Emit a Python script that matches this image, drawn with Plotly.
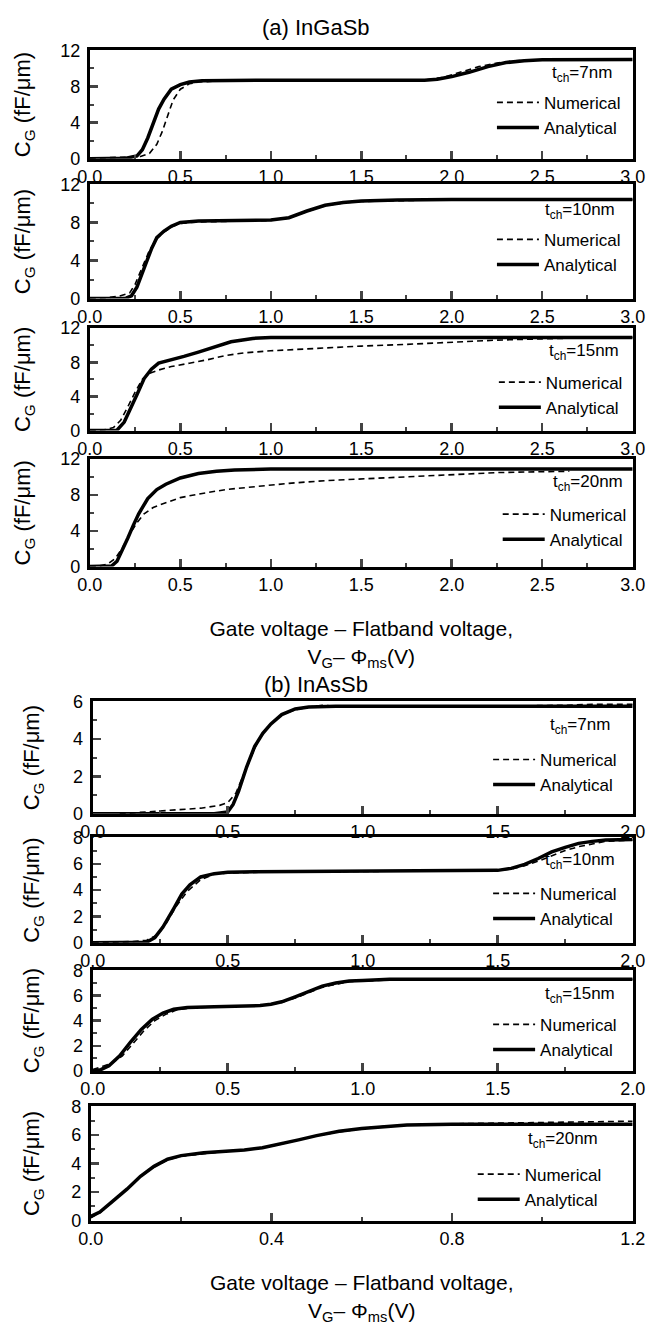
import plotly.graph_objects as go

W, H = 662, 1336

# ---------------- data ----------------
# (a) InGaSb, t_ch = 7 nm
a7_ana_x = [0, 0.1, 0.2, 0.26, 0.29, 0.32, 0.35, 0.38, 0.41, 0.45, 0.5, 0.55, 0.62, 0.8, 1.0, 1.5, 1.85, 1.92, 2.0, 2.1, 2.2, 2.3, 2.4, 2.5, 2.75, 3.0]
a7_ana_y = [0, 0, 0.05, 0.3, 1.0, 2.3, 3.9, 5.5, 6.6, 7.7, 8.2, 8.5, 8.65, 8.7, 8.7, 8.7, 8.7, 8.8, 9.1, 9.6, 10.2, 10.65, 10.85, 10.95, 11.0, 11.0]
a7_num_x = [0, 0.1, 0.2, 0.28, 0.33, 0.37, 0.4, 0.43, 0.46, 0.5, 0.55, 0.6, 0.7, 1.0, 1.5, 1.85, 1.95, 2.05, 2.15, 2.25, 2.35, 2.5, 2.75, 3.0]
a7_num_y = [0.05, 0.1, 0.15, 0.25, 0.6, 1.6, 3.0, 4.8, 6.5, 7.7, 8.3, 8.5, 8.6, 8.65, 8.65, 8.7, 9.0, 9.6, 10.2, 10.6, 10.85, 10.95, 11.0, 11.0]

# (a) InGaSb, t_ch = 10 nm
a10_ana_x = [0, 0.1, 0.2, 0.23, 0.26, 0.3, 0.34, 0.37, 0.41, 0.45, 0.5, 0.6, 0.8, 1.0, 1.1, 1.2, 1.3, 1.4, 1.5, 1.7, 2.0, 2.5, 3.0]
a10_ana_y = [0, 0, 0.05, 0.3, 1.2, 3.2, 5.2, 6.4, 7.1, 7.6, 8.0, 8.15, 8.2, 8.25, 8.5, 9.2, 9.8, 10.1, 10.25, 10.35, 10.4, 10.4, 10.4]
a10_num_x = [0, 0.1, 0.17, 0.22, 0.25, 0.29, 0.33, 0.37, 0.41, 0.45, 0.5, 0.6, 0.8, 1.0, 1.1, 1.2, 1.3, 1.4, 1.5, 1.7, 2.0, 2.5, 3.0]
a10_num_y = [0.05, 0.1, 0.3, 0.6, 1.5, 3.3, 5.1, 6.3, 7.0, 7.5, 7.9, 8.05, 8.15, 8.2, 8.45, 9.15, 9.75, 10.05, 10.2, 10.3, 10.4, 10.4, 10.4]

# (a) InGaSb, t_ch = 15 nm
a15_ana_x = [0, 0.1, 0.15, 0.19, 0.22, 0.26, 0.3, 0.34, 0.38, 0.45, 0.52, 0.6, 0.7, 0.78, 0.9, 1.0, 1.5, 2.0, 2.5, 3.0]
a15_ana_y = [0, 0, 0.05, 1.0, 2.3, 4.2, 6.1, 7.2, 7.9, 8.35, 8.7, 9.2, 9.9, 10.4, 10.8, 10.9, 10.9, 10.9, 10.9, 10.9]
a15_num_x = [0, 0.08, 0.13, 0.17, 0.21, 0.25, 0.29, 0.33, 0.38, 0.45, 0.55, 0.65, 0.75, 0.85, 1.0, 1.25, 1.5, 1.75, 2.0, 2.25, 2.5, 2.7, 3.0]
a15_num_y = [0, 0.1, 0.35, 1.2, 2.8, 4.5, 6.0, 6.7, 7.1, 7.5, 7.9, 8.3, 8.8, 9.1, 9.35, 9.65, 9.9, 10.1, 10.35, 10.6, 10.75, 10.85, 10.9]

# (a) InGaSb, t_ch = 20 nm
a20_ana_x = [0, 0.08, 0.12, 0.15, 0.18, 0.21, 0.24, 0.27, 0.32, 0.37, 0.42, 0.5, 0.6, 0.7, 0.8, 1.0, 1.5, 2.0, 2.5, 3.0]
a20_ana_y = [0, 0, 0.05, 0.6, 1.8, 3.2, 4.6, 5.9, 7.6, 8.6, 9.2, 9.9, 10.4, 10.65, 10.8, 10.9, 10.9, 10.9, 10.9, 10.9]
a20_num_x = [0, 0.05, 0.1, 0.14, 0.18, 0.22, 0.26, 0.3, 0.35, 0.4, 0.5, 0.6, 0.75, 0.9, 1.1, 1.3, 1.5, 1.75, 2.0, 2.25, 2.5, 2.65]
a20_num_y = [0, 0.05, 0.3, 0.9, 2.1, 3.6, 4.9, 5.9, 6.6, 7.0, 7.7, 8.1, 8.6, 8.9, 9.3, 9.6, 9.8, 10.05, 10.3, 10.5, 10.6, 10.65]

# (b) InAsSb, t_ch = 7 nm
b7_ana_x = [0, 0.1, 0.3, 0.45, 0.5, 0.52, 0.54, 0.57, 0.6, 0.63, 0.66, 0.7, 0.75, 0.8, 0.9, 1.0, 1.5, 2.0]
b7_ana_y = [0, 0, 0, 0, 0.1, 0.5, 1.2, 2.5, 3.6, 4.3, 4.8, 5.3, 5.6, 5.7, 5.75, 5.75, 5.75, 5.75]
b7_num_x = [0.1, 0.2, 0.3, 0.4, 0.47, 0.5, 0.53, 0.56, 0.6, 0.63, 0.66, 0.7, 0.75, 0.8, 0.85, 0.9, 1.0, 1.5, 1.75, 1.85, 2.0]
b7_num_y = [0.0, 0.1, 0.2, 0.3, 0.45, 0.6, 1.1, 2.1, 3.5, 4.3, 4.8, 5.3, 5.55, 5.7, 5.8, 5.75, 5.75, 5.75, 5.8, 5.85, 5.85]

# (b) InAsSb, t_ch = 10 nm
b10_ana_x = [0, 0.1, 0.2, 0.23, 0.26, 0.3, 0.33, 0.36, 0.4, 0.45, 0.5, 0.6, 1.0, 1.4, 1.5, 1.55, 1.6, 1.65, 1.7, 1.75, 1.8, 1.85, 1.9, 2.0]
b10_ana_y = [0, 0, 0.05, 0.4, 1.2, 2.6, 3.7, 4.4, 5.0, 5.25, 5.35, 5.4, 5.45, 5.45, 5.5, 5.65, 5.95, 6.4, 6.9, 7.25, 7.55, 7.7, 7.8, 7.85]
b10_num_x = [0, 0.1, 0.15, 0.2, 0.24, 0.27, 0.31, 0.35, 0.4, 0.45, 0.5, 0.6, 1.0, 1.4, 1.5, 1.55, 1.6, 1.65, 1.7, 1.75, 1.8, 1.85, 1.9, 2.0]
b10_num_y = [0.0, 0.05, 0.1, 0.2, 0.6, 1.4, 2.8, 3.9, 4.8, 5.2, 5.3, 5.35, 5.4, 5.45, 5.5, 5.6, 5.85, 6.2, 6.6, 7.0, 7.3, 7.5, 7.7, 7.8]

# (b) InAsSb, t_ch = 15 nm
b15_ana_x = [0, 0.03, 0.06, 0.1, 0.14, 0.18, 0.22, 0.26, 0.3, 0.35, 0.45, 0.55, 0.62, 0.66, 0.7, 0.75, 0.8, 0.85, 0.9, 0.95, 1.0, 1.1, 1.5, 2.0]
b15_ana_y = [0, 0.1, 0.4, 1.2, 2.3, 3.3, 4.1, 4.6, 4.9, 5.05, 5.1, 5.15, 5.2, 5.3, 5.5, 5.9, 6.35, 6.75, 7.0, 7.15, 7.2, 7.3, 7.3, 7.3]
b15_num_x = [0, 0.03, 0.07, 0.11, 0.15, 0.19, 0.23, 0.27, 0.31, 0.36, 0.45, 0.55, 0.62, 0.66, 0.7, 0.75, 0.8, 0.85, 0.9, 0.95, 1.0, 1.1, 1.5, 2.0]
b15_num_y = [0.1, 0.3, 0.6, 1.2, 2.2, 3.2, 4.0, 4.5, 4.85, 5.0, 5.1, 5.15, 5.2, 5.3, 5.45, 5.8, 6.25, 6.65, 6.9, 7.1, 7.15, 7.25, 7.3, 7.3]

# (b) InAsSb, t_ch = 20 nm
b20_ana_x = [0, 0.02, 0.05, 0.08, 0.11, 0.14, 0.17, 0.2, 0.25, 0.3, 0.34, 0.38, 0.42, 0.46, 0.5, 0.55, 0.6, 0.65, 0.7, 0.8, 1.0, 1.2]
b20_ana_y = [0.3, 0.6, 1.4, 2.2, 3.1, 3.8, 4.3, 4.55, 4.75, 4.85, 4.95, 5.1, 5.35, 5.65, 5.95, 6.25, 6.45, 6.6, 6.7, 6.75, 6.75, 6.75]
b20_num_x = [0, 0.02, 0.05, 0.08, 0.11, 0.14, 0.17, 0.2, 0.25, 0.3, 0.34, 0.38, 0.42, 0.46, 0.5, 0.55, 0.6, 0.65, 0.7, 0.8, 0.9, 1.0, 1.1, 1.2]
b20_num_y = [0.2, 0.55, 1.35, 2.2, 3.1, 3.75, 4.25, 4.5, 4.7, 4.85, 4.95, 5.1, 5.35, 5.65, 5.95, 6.2, 6.45, 6.6, 6.7, 6.78, 6.83, 6.88, 6.92, 6.96]

thickness_labels = ["t<sub>ch</sub>=7nm", "t<sub>ch</sub>=10nm", "t<sub>ch</sub>=15nm", "t<sub>ch</sub>=20nm"] * 2
series_names = ["Numerical", "Analytical"]
group_titles = ["(a) InGaSb", "(b) InAsSb"]
x_title = "Gate voltage \u2013 Flatband voltage,<br>V<sub>G</sub>\u2013 \u03a6<sub>ms</sub>(V)"
y_title = "C<sub>G</sub> (fF/\u03bcm)"

data = [
    (a7_num_x, a7_num_y, a7_ana_x, a7_ana_y),
    (a10_num_x, a10_num_y, a10_ana_x, a10_ana_y),
    (a15_num_x, a15_num_y, a15_ana_x, a15_ana_y),
    (a20_num_x, a20_num_y, a20_ana_x, a20_ana_y),
    (b7_num_x, b7_num_y, b7_ana_x, b7_ana_y),
    (b10_num_x, b10_num_y, b10_ana_x, b10_ana_y),
    (b15_num_x, b15_num_y, b15_ana_x, b15_ana_y),
    (b20_num_x, b20_num_y, b20_ana_x, b20_ana_y),
]

# ---------------- layout geometry (pixels) ----------------
boxes = [
    (80, 645, 41, 151), (80, 645, 177, 293), (80, 645, 323, 427), (80, 645, 456, 565),
    (83, 645, 702, 816), (83, 645, 840, 947), (83, 645, 975, 1077), (81, 645, 1113, 1229),
]
axis_spec = [
    ([0, 3], 0.5, 0.25, [0, 12], 4, 2),
    ([0, 3], 0.5, 0.25, [0, 12], 4, 2),
    ([0, 3], 0.5, 0.25, [0, 12], 4, 2),
    ([0, 3], 0.5, 0.25, [0, 12], 4, 2),
    ([0, 2], 0.5, 0.25, [0, 6], 2, 1),
    ([0, 2], 0.5, 0.25, [0, 8], 2, 1),
    ([0, 2], 0.5, 0.25, [0, 8], 2, 1),
    ([0, 1.2], 0.4, 0.2, [0, 8], 2, 1),
]
y_standoff = [24, 24, 24, 24, 28, 28, 28, 26]
legend_pos = [
    (634, 592, 24, 47), (634, 590, 27, 50), (636, 594, 24, 49), (640, 598, 24, 50),
    (630, 590, 25, 53), (630, 590, 24, 51), (630, 590, 25, 49), (614, 572, 34, 63),
]

FONT = "Liberation Sans, Arial, sans-serif"
fig = go.Figure()
layout = dict(
    width=W, height=H, margin=dict(l=0, r=0, t=0, b=0),
    paper_bgcolor="white", plot_bgcolor="white",
    font=dict(family=FONT, size=17, color="black"),
    annotations=[], showlegend=True, hovermode=False,
)

for i, (nx, ny, ax_, ay) in enumerate(data):
    k = i + 1
    xa = "x" if k == 1 else f"x{k}"
    ya = "y" if k == 1 else f"y{k}"
    lg = "legend" if k == 1 else f"legend{k}"
    fig.add_trace(go.Scatter(x=nx, y=ny, mode="lines", name=series_names[0],
                             line=dict(color="black", width=1.6, dash="6px,4px"),
                             xaxis=xa, yaxis=ya, legend=lg))
    fig.add_trace(go.Scatter(x=ax_, y=ay, mode="lines", name=series_names[1],
                             line=dict(color="black", width=3.5),
                             xaxis=xa, yaxis=ya, legend=lg))
    l, r, t, b = boxes[i]
    xr, xd, xm, yr, yd, ym = axis_spec[i]
    xkey = "xaxis" if k == 1 else f"xaxis{k}"
    ykey = "yaxis" if k == 1 else f"yaxis{k}"
    last = k in (4, 8)
    layout[xkey] = dict(
        domain=[l / W, r / W], anchor=ya, range=xr, dtick=xd, tick0=0,
        tickformat=".1f", ticks="inside", ticklen=8, tickwidth=2.5,
        showline=True, linewidth=3, linecolor="black", mirror=True,
        showgrid=False, zeroline=False, tickfont=dict(size=18),
        minor=dict(ticks="inside", ticklen=4, tickwidth=2, dtick=xm, tick0=0, showgrid=False),
        title=dict(text=x_title, font=dict(size=21), standoff=28) if last else None,
    )
    layout[ykey] = dict(
        domain=[1 - b / H, 1 - t / H], anchor=xa, range=yr, dtick=yd, tick0=0,
        ticks="inside", ticklen=8, tickwidth=2.5, ticklabelstandoff=3,
        showline=True, linewidth=3, linecolor="black", mirror=True,
        showgrid=False, zeroline=False, tickfont=dict(size=18),
        minor=dict(ticks="inside", ticklen=4, tickwidth=2, dtick=ym, tick0=0, showgrid=False),
        title=dict(text=y_title, font=dict(size=22), standoff=y_standoff[i]),
    )
    tr, tcx, toff, ioff = legend_pos[i]
    layout[lg] = dict(
        x=(tr + 4) / W, xanchor="right", y=1 - (t + ioff - 12) / H, yanchor="top",
        bgcolor="rgba(0,0,0,0)", borderwidth=0, font=dict(size=17),
        itemwidth=42, tracegroupgap=0, traceorder="normal",
    )
    layout["annotations"].append(dict(
        text=thickness_labels[i], x=tcx / W, y=1 - (t + toff) / H, xref="paper", yref="paper",
        xanchor="center", yanchor="middle", showarrow=False, font=dict(size=17),
    ))

layout["annotations"].append(dict(text=group_titles[0], x=315 / W, y=1 - 18 / H, xref="paper", yref="paper",
                                  showarrow=False, font=dict(size=22), xanchor="center", yanchor="middle"))
layout["annotations"].append(dict(text=group_titles[1], x=315 / W, y=1 - 685 / H, xref="paper", yref="paper",
                                  showarrow=False, font=dict(size=22), xanchor="center", yanchor="middle"))

fig.update_layout(**layout)
fig.write_html(
    "out.html",
    config={"displayModeBar": False, "staticPlot": True},
    post_script="document.body.style.margin='0px';document.body.style.overflow='hidden';",
)
